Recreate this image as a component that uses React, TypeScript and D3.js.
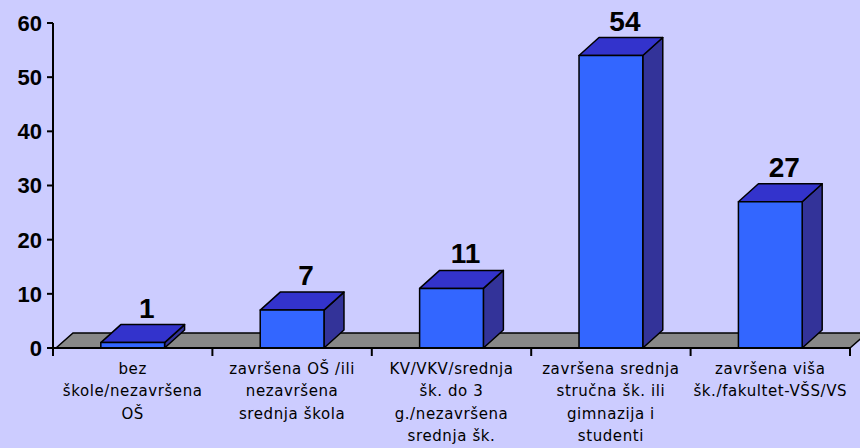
import React from 'react';
import * as d3 from 'd3';

// data
const categories = ['c1', 'c2', 'c3', 'c4', 'c5'];
const categoryLines = [
  ['bez', 'škole/nezavršena', 'OŠ'],
  ['završena OŠ /ili', 'nezavršena', 'srednja škola'],
  ['KV/VKV/srednja', 'šk. do 3', 'g./nezavršena', 'srednja šk.'],
  ['završena srednja', 'stručna šk. ili', 'gimnazija i', 'studenti'],
  ['završena viša', 'šk./fakultet-VŠS/VS'],
];
const values = [1, 7, 11, 54, 27];
const yTicks = [0, 10, 20, 30, 40, 50, 60];

const W = 860;
const H = 448;
const left = 53;
const right = 850;
const y0 = 348;
const yTop = 23;
const dx = 20; // bar depth
const dy = 18;
const fdx = 17; // floor depth
const fdy = 15;

const App = () => {
  const x = d3.scaleBand().domain(categories).range([left, right]);
  const y = d3.scaleLinear().domain([0, 60]).range([y0, yTop]);
  const bw = x.bandwidth();

  const floor = d3.path();
  floor.moveTo(left + 3, y0);
  floor.lineTo(left + 3 + fdx, y0 - fdy);
  floor.lineTo(right + fdx, y0 - fdy);
  floor.lineTo(right, y0);
  floor.closePath();

  return (
    <svg width={W} height={H} style={{ position: 'absolute', left: 0, top: 0 }}>
      <rect width={W} height={H} fill="#CCCCFF" />
      <path d={floor.toString()} fill="#888888" stroke="#000" strokeWidth={1.5} />

      {values.map((v, i) => {
        const x0 = (x(categories[i]) as number) + bw * 0.3;
        const w = bw * 0.4;
        const yt = y(v);
        const top = `M${x0},${yt} L${x0 + dx},${yt - dy} L${x0 + w + dx},${yt - dy} L${x0 + w},${yt} Z`;
        const side = `M${x0 + w},${yt} L${x0 + w + dx},${yt - dy} L${x0 + w + dx},${y0 - dy} L${x0 + w},${y0} Z`;
        return (
          <g key={i} stroke="#000" strokeWidth={1.5} strokeLinejoin="round">
            <path d={side} fill="#333399" />
            <path d={top} fill="#3333CC" />
            <rect x={x0} y={yt} width={w} height={y0 - yt} fill="#3366FF" />
            <text
              x={x0 + w / 2 + 14}
              y={yt - dy - 7}
              textAnchor="middle"
              stroke="none"
              fill="#000"
              fontFamily="Liberation Sans, Arial, sans-serif"
              fontWeight="bold"
              fontSize={28}
            >
              {v}
            </text>
          </g>
        );
      })}

      {/* y axis */}
      <line x1={left} x2={left} y1={yTop} y2={y0} stroke="#000" strokeWidth={2} />
      {yTicks.map((t) => (
        <g key={t}>
          <line x1={left - 6} x2={left} y1={y(t)} y2={y(t)} stroke="#000" strokeWidth={2} />
          <text
            x={left - 11}
            y={y(t)}
            dy="0.36em"
            textAnchor="end"
            fontFamily="Liberation Sans, Arial, sans-serif"
            fontWeight="bold"
            fontSize={22}
          >
            {t}
          </text>
        </g>
      ))}

      {/* x axis */}
      <line x1={left} x2={right} y1={y0} y2={y0} stroke="#000" strokeWidth={2} />
      {[...categories.map((c) => x(c) as number), right].map((tx, i) => (
        <line key={i} x1={tx} x2={tx} y1={y0} y2={y0 + 8} stroke="#000" strokeWidth={2} />
      ))}
      {categoryLines.map((lines, i) => (
        <text
          key={i}
          textAnchor="middle"
          fontFamily="DejaVu Sans, sans-serif"
          fontSize={15}
          letterSpacing={0.6}
          fill="#000"
        >
          {lines.map((l, j) => (
            <tspan key={j} x={(x(categories[i]) as number) + bw / 2} y={374 + j * 22.3}>
              {l}
            </tspan>
          ))}
        </text>
      ))}
    </svg>
  );
};

export default App;
